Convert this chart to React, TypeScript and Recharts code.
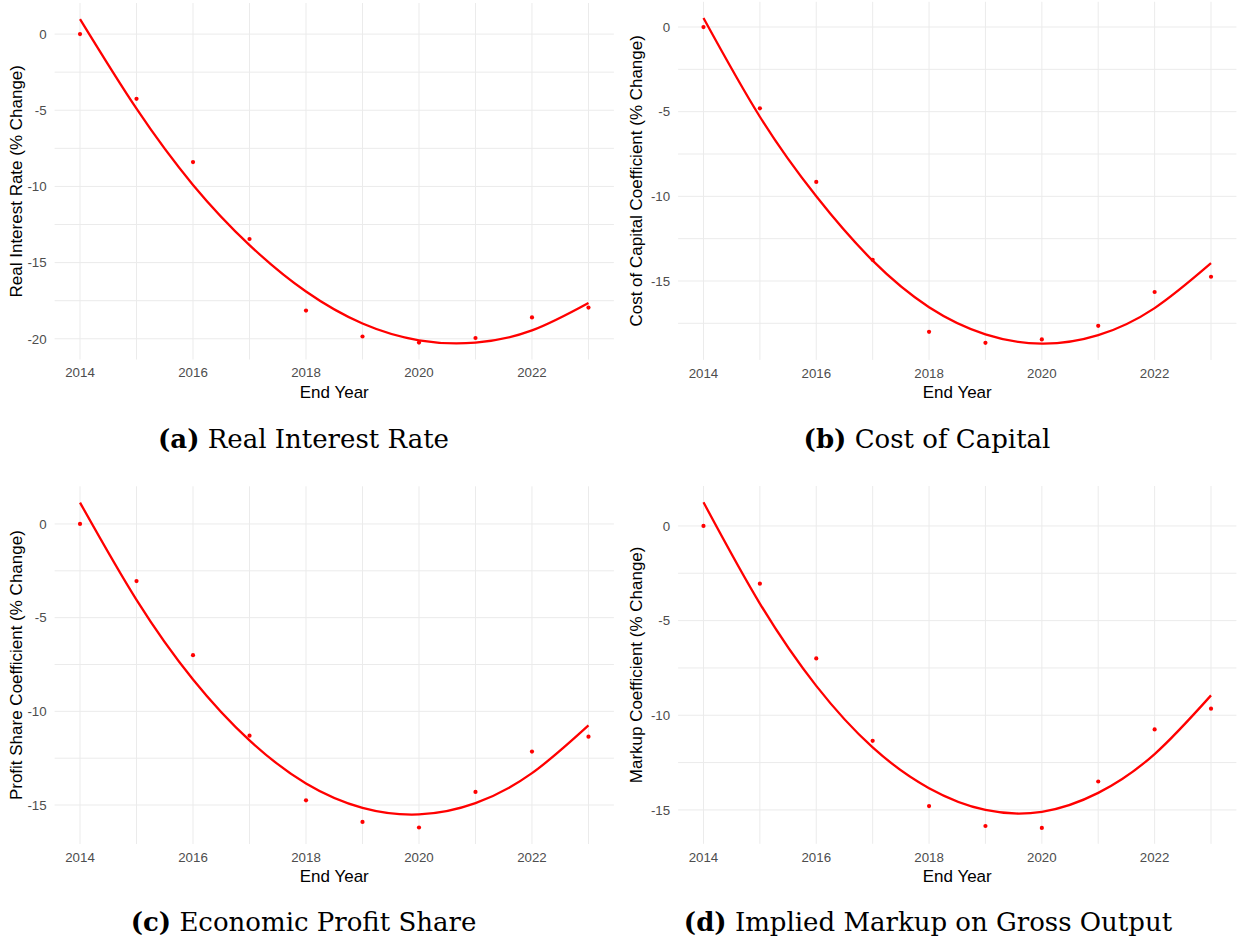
import { ComposedChart, Line, Scatter, XAxis, YAxis, CartesianGrid } from "recharts";

// end years shared by all four panels
const years = [2014, 2015, 2016, 2017, 2018, 2019, 2020, 2021, 2022, 2023];
const xTicks = [2014, 2016, 2018, 2020, 2022];

// (a) real interest rate, % change
const realRatePoints = [0, -4.25, -8.4, -13.45, -18.15, -19.85, -20.25, -19.95, -18.6, -17.95];
const realRateFit = [0.98, -4.9, -9.9, -13.85, -16.9, -19.0, -20.1, -20.25, -19.45, -17.65];

// (b) cost of capital coefficient
const costPoints = [0, -4.8, -9.15, -13.75, -18.0, -18.65, -18.45, -17.65, -15.65, -14.75];
const costFit = [0.53, -5.3, -10.0, -13.8, -16.55, -18.15, -18.7, -18.2, -16.6, -13.95];

// (c) profit share coefficient
const profitPoints = [0, -3.05, -7.0, -11.3, -14.75, -15.9, -16.2, -14.3, -12.15, -11.35];
const profitFit = [1.14, -4.05, -8.3, -11.55, -13.85, -15.15, -15.5, -14.9, -13.3, -10.75];

// (d) markup coefficient
const markupPoints = [0, -3.05, -7.0, -11.35, -14.8, -15.85, -15.95, -13.5, -10.75, -9.65];
const markupFit = [1.25, -4.1, -8.45, -11.7, -13.85, -15.0, -15.1, -14.1, -12.05, -8.95];

const SANS = "'Liberation Sans', Arial, sans-serif";
const RED = "#FF0000";
const X_AXIS_H = 46;

interface Box {
  left: number;
  top: number;
  width: number;
  plotTop: number;
  plotH: number;
  right: number;
  yAxisWidth: number;
  titleX: number;
}

interface PanelProps {
  points: number[];
  fit: number[];
  yTitle: string;
  yDomain: [number, number];
  yTicks: number[];
  gridY: number[];
  box: Box;
}

const Panel = ({ points, fit, yTitle, yDomain, yTicks, gridY, box }: PanelProps) => {
  const data = years.map((year, i) => ({ year, point: points[i], fit: fit[i] }));
  return (
    <div style={{ position: "absolute", left: box.left, top: box.top }}>
      <ComposedChart
        width={box.width}
        height={box.plotTop + box.plotH + X_AXIS_H}
        data={data}
        margin={{ top: box.plotTop, right: box.right, bottom: 0, left: 0 }}
      >
        <CartesianGrid stroke="#EBEBEB" strokeWidth={1} horizontalValues={gridY} verticalValues={years} />
        <XAxis
          type="number"
          dataKey="year"
          domain={[2013.55, 2023.45]}
          ticks={xTicks}
          interval={0}
          allowDataOverflow
          axisLine={false}
          tickLine={false}
          tickSize={0}
          tickMargin={8.5}
          height={X_AXIS_H}
          tick={{ fill: "#4D4D4D", fontSize: 13.3, fontFamily: SANS }}
          label={{ value: "End Year", position: "insideBottom", offset: 8, fill: "#000", fontSize: 17, fontFamily: SANS }}
        />
        <YAxis
          type="number"
          domain={yDomain}
          ticks={yTicks}
          allowDataOverflow
          width={box.yAxisWidth}
          axisLine={false}
          tickLine={false}
          tickSize={0}
          tickMargin={8}
          tick={{ fill: "#4D4D4D", fontSize: 13.3, fontFamily: SANS }}
          label={{
            value: yTitle,
            angle: -90,
            position: "insideLeft",
            offset: box.titleX,
            fill: "#000",
            fontSize: 17,
            fontFamily: SANS,
            style: { textAnchor: "middle" },
          }}
        />
        <Scatter
          dataKey="point"
          fill={RED}
          isAnimationActive={false}
          shape={(p: any) => <circle cx={p.cx} cy={p.cy} r={2.1} fill={RED} />}
        />
        <Line
          dataKey="fit"
          type="natural"
          stroke={RED}
          strokeWidth={2.3}
          dot={false}
          activeDot={false}
          isAnimationActive={false}
        />
      </ComposedChart>
    </div>
  );
};

const captionStyle = { fontFamily: "'DejaVu Serif', serif", fontSize: 26, fill: "#000" };

const App = () => {
  return (
    <div style={{ position: "relative", width: 1237, height: 939, background: "#fff" }}>
      <style>{"body{margin:0}"}</style>
      <Panel
        points={realRatePoints}
        fit={realRateFit}
        yTitle="Real Interest Rate (% Change)"
        yDomain={[-21.36, 2.04]}
        yTicks={[-20, -15, -10, -5, 0]}
        gridY={[-20, -17.5, -15, -12.5, -10, -7.5, -5, -2.5, 0]}
        box={{ left: 0, top: 0, width: 620, plotTop: 3, plotH: 356.5, right: 6.1, yAxisWidth: 54.6, titleX: 15.5 }}
      />
      <Panel
        points={costPoints}
        fit={costFit}
        yTitle="Cost of Capital Coefficient (% Change)"
        yDomain={[-19.66, 1.49]}
        yTicks={[-15, -10, -5, 0]}
        gridY={[-17.5, -15, -12.5, -10, -7.5, -5, -2.5, 0]}
        box={{ left: 620, top: 0, width: 617, plotTop: 1.8, plotH: 358.1, right: 0.6, yAxisWidth: 58.1, titleX: 16 }}
      />
      <Panel
        points={profitPoints}
        fit={profitFit}
        yTitle="Profit Share Coefficient (% Change)"
        yDomain={[-17.08, 2.01]}
        yTicks={[-15, -10, -5, 0]}
        gridY={[-15, -12.5, -10, -7.5, -5, -2.5, 0]}
        box={{ left: 0, top: 470, width: 620, plotTop: 16.3, plotH: 357.7, right: 6.1, yAxisWidth: 54.6, titleX: 15.5 }}
      />
      <Panel
        points={markupPoints}
        fit={markupFit}
        yTitle="Markup Coefficient (% Change)"
        yDomain={[-16.79, 2.11]}
        yTicks={[-15, -10, -5, 0]}
        gridY={[-15, -12.5, -10, -7.5, -5, -2.5, 0]}
        box={{ left: 620, top: 470, width: 617, plotTop: 16, plotH: 357.8, right: 0.6, yAxisWidth: 58.1, titleX: 16 }}
      />
      <svg width={1237} height={939} style={{ position: "absolute", left: 0, top: 0, pointerEvents: "none" }}>
        <text x={303.5} y={448} textAnchor="middle" style={captionStyle}>
          <tspan fontWeight="bold">(a)</tspan> Real Interest Rate
        </text>
        <text x={927} y={448} textAnchor="middle" style={captionStyle}>
          <tspan fontWeight="bold">(b)</tspan> Cost of Capital
        </text>
        <text x={303.5} y={931} textAnchor="middle" style={captionStyle}>
          <tspan fontWeight="bold">(c)</tspan> Economic Profit Share
        </text>
        <text x={928} y={931} textAnchor="middle" style={captionStyle}>
          <tspan fontWeight="bold">(d)</tspan> Implied Markup on Gross Output
        </text>
      </svg>
    </div>
  );
};

export default App;
